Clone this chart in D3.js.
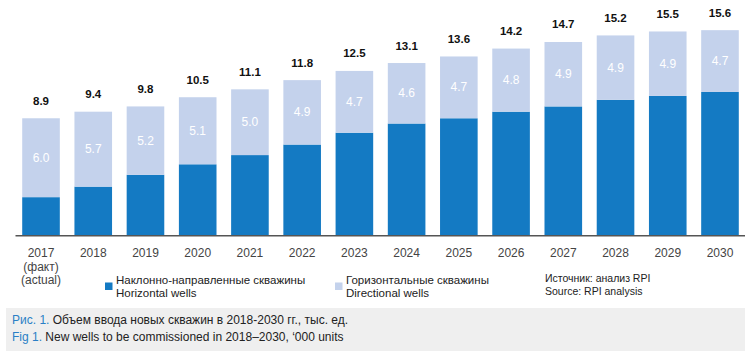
<!DOCTYPE html>
<html><head><meta charset="utf-8">
<script src="https://cdn.jsdelivr.net/npm/d3@7"></script>
<style>
body{margin:0;background:#fff;}
svg text{font-family:"Liberation Sans",Arial,Helvetica,sans-serif;}
</style></head>
<body><svg id="c" width="750" height="355"></svg>
<script>
const years = ["2017","2018","2019","2020","2021","2022","2023","2024","2025","2026","2027","2028","2029","2030"];
const totals = [8.9,9.4,9.8,10.5,11.1,11.8,12.5,13.1,13.6,14.2,14.7,15.2,15.5,15.6];
const lightVals = [6.0,5.7,5.2,5.1,5.0,4.9,4.7,4.6,4.7,4.8,4.9,4.9,4.9,4.7];
const darkVals = [2.9,3.7,4.6,5.4,6.1,6.9,7.8,8.5,8.9,9.4,9.8,10.3,10.6,10.9];
const legendRu = ["Наклонно-направленные скважины","Горизонтальные скважины"];
const legendEn = ["Horizontal wells","Directional wells"];
const colors = ["#147ac3","#c4d2ec"];

const svg = d3.select("#c");
const x = d3.scaleBand().domain(years).range([14.9,746.1]).paddingInner(0.28).paddingOuter(0.14);
const y = d3.scaleLinear().domain([0,16]).range([235.3,235.3-16*13.15]);

const g = svg.append("g");
years.forEach((yr,i)=>{
  const d = darkVals[i], l = lightVals[i];
  g.append("rect").attr("x",x(yr)).attr("width",x.bandwidth())
    .attr("y",y(d)).attr("height",y(0)-y(d)).attr("fill",colors[0]);
  g.append("rect").attr("x",x(yr)).attr("width",x.bandwidth())
    .attr("y",y(d+l)).attr("height",y(d)-y(d+l)).attr("fill",colors[1]);
  g.append("text").attr("x",x(yr)+x.bandwidth()/2).attr("y",(y(d)+y(d+l))/2+4)
    .attr("text-anchor","middle").attr("fill","#fff").attr("font-size",12)
    .text(l.toFixed(1));
  g.append("text").attr("x",x(yr)+x.bandwidth()/2).attr("y",y(totals[i])-13.5)
    .attr("text-anchor","middle").attr("fill","#111").attr("font-size",11.5).attr("font-weight","bold")
    .text(totals[i].toFixed(1));
});

// baseline axis
const ax = svg.append("g").attr("transform",`translate(0,${y(0)})`)
  .call(d3.axisBottom(x).tickSize(0).tickPadding(13));
ax.select(".domain").attr("stroke","#555").attr("stroke-width",1.5).attr("d","M15.5,0.5H745");
ax.selectAll(".tick text").attr("font-size",12).attr("fill","#444")
  .attr("font-family","Liberation Sans,Arial,sans-serif");
ax.selectAll(".tick").filter(d=>d==="2017").each(function(){
  const t = d3.select(this).select("text");
  t.append("tspan").attr("x",0).attr("dy","1.15em").text("(факт)");
  t.append("tspan").attr("x",0).attr("dy","1.15em").text("(actual)");
});

// legend
const lx = [105,335];
[0,1].forEach(i=>{
  svg.append("rect").attr("x",lx[i]).attr("y",282.5).attr("width",7.5).attr("height",7.5).attr("fill",colors[i]);
  svg.append("text").attr("x",lx[i]+11).attr("y",283.5).attr("font-size",11.5).attr("fill","#222").text(legendRu[i]);
  svg.append("text").attr("x",lx[i]+11).attr("y",297).attr("font-size",11.5).attr("fill","#222").text(legendEn[i]);
});
svg.append("text").attr("x",545).attr("y",282).attr("font-size",10.5).attr("fill","#222").text("Источник: анализ RPI");
svg.append("text").attr("x",545).attr("y",295).attr("font-size",10.5).attr("fill","#222").text("Source: RPI analysis");

// caption box
svg.append("rect").attr("x",6).attr("y",308).attr("width",739).attr("height",43).attr("fill","#efefef");
const c1 = svg.append("text").attr("x",12).attr("y",324).attr("font-size",12).attr("fill","#222");
c1.append("tspan").attr("fill","#2a7fc6").text("Рис. 1. ");
c1.append("tspan").text("Объем ввода новых скважин в 2018-2030 гг., тыс. ед.");
const c2 = svg.append("text").attr("x",12).attr("y",341).attr("font-size",12).attr("fill","#222");
c2.append("tspan").attr("fill","#2a7fc6").text("Fig 1. ");
c2.append("tspan").text("New wells to be commissioned in 2018–2030, ‘000 units");
</script></body></html>
